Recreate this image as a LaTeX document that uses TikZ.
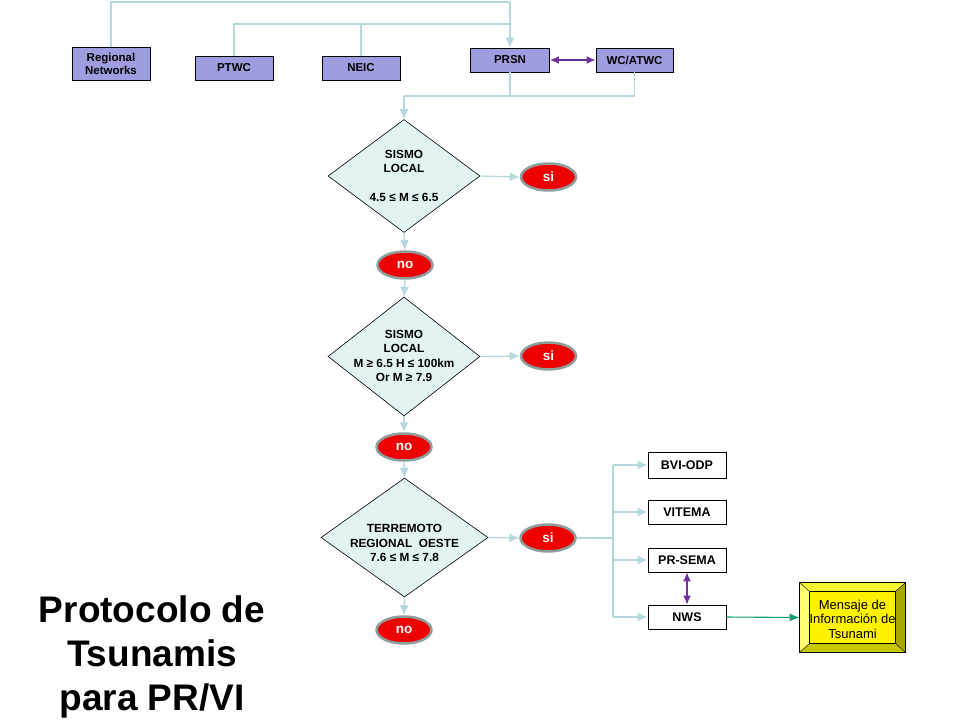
\documentclass[tikz,border=0pt]{standalone}
\usepackage{fontspec}
\setmainfont{Liberation Sans}
\usetikzlibrary{shapes.geometric,arrows.meta}
\definecolor{boxblue}{HTML}{9D9DDF}
\definecolor{diafill}{HTML}{E3F3F3}
\definecolor{conncol}{HTML}{B6D8DC}
\definecolor{ringgray}{HTML}{8E9E9E}
\definecolor{alertred}{HTML}{EE0000}
\definecolor{purp}{HTML}{7030A0}
\definecolor{arrgreen}{HTML}{10A070}
\definecolor{bevlight}{HTML}{FFFF70}
\definecolor{bevtop}{HTML}{F4F430}
\definecolor{bevdark}{HTML}{A8A800}
\definecolor{bevbot}{HTML}{C8C800}
\begin{document}
\begin{tikzpicture}[x=1pt,y=-1pt,
  bluebox/.style={draw=black,fill=boxblue,line width=0.8pt,minimum width=78pt,minimum height=24pt,inner sep=0pt,align=center,font=\bfseries\fontsize{11.5}{13}\selectfont},
  whitebox/.style={draw=black,fill=white,line width=0.8pt,minimum width=78pt,minimum height=24pt,inner sep=0pt,font=\bfseries\fontsize{12.5}{14}\selectfont},
  decision/.style={diamond,draw=black,fill=diafill,line width=0.6pt,inner sep=0pt},
  dtext/.style={align=center,font=\bfseries\fontsize{11.8}{14.2}\selectfont,inner sep=0pt},
  answer/.style={ellipse,draw=ringgray,line width=2.5pt,fill=alertred,text=white,minimum width=55pt,minimum height=27pt,inner sep=0pt,font=\bfseries\fontsize{13.5}{15}\selectfont},
  conn/.style={draw=conncol,line width=1.3pt},
  carrow/.style={conn,-{Latex[length=10pt,width=9pt]}},
  parrow/.style={draw=purp,line width=1.3pt,{Latex[length=9pt,width=8pt]}-{Latex[length=9pt,width=8pt]}},
]
\useasboundingbox (0,0) rectangle (960,720);
\fill[white] (0,0) rectangle (960,720);

% top boxes
\node[bluebox,minimum height=33pt] (rn) at (111,64) {Regional\\Networks};
\node[bluebox] (ptwc) at (234,68) {PTWC};
\node[bluebox] (neic) at (361,68) {NEIC};
\node[bluebox,minimum width=79pt] (prsn) at (510,60) {PRSN};
\node[bluebox,minimum width=77pt] (wcatwc) at (634.5,60) {WC/ATWC};

\coordinate (jtop) at (510,2);
\coordinate (jmid) at (510,24);
\coordinate (jlow) at (404,96);

\draw[conn] (rn.north) |- (jtop);
\draw[carrow] (jtop) -- (prsn.north);
\draw[conn] (ptwc.north) |- (jmid);
\draw[conn] (neic.north) -- (neic.north |- jmid);
\draw[parrow] (prsn.east) -- (wcatwc.west);
\draw[conn] (wcatwc.south) |- (jlow);
\draw[conn] (prsn.south) -- (prsn.south |- jlow);

% decisions
\node[decision,minimum width=152pt,minimum height=113pt] (d1) at (404,176) {};
\node[dtext] (t1) at (404,176) {SISMO\\LOCAL\\[14.2pt]4.5 ≤ M ≤ 6.5};
\node[answer] (si1) at (548.5,177) {si};
\node[answer] (no1) at (405,265) {no};

\node[decision,minimum width=152pt,minimum height=119pt] (d2) at (404,356.5) {};
\node[dtext] (t2) at (404,356) {SISMO\\LOCAL\\M ≥ 6.5 H ≤ 100km\\Or M ≥ 7.9};
\node[answer] (si2) at (548.5,356) {si};
\node[answer] (no2) at (404,447) {no};

\node[decision,minimum width=167pt,minimum height=119pt] (d3) at (404.5,537.5) {};
\node[dtext] (t3) at (404.5,543) {TERREMOTO\\REGIONAL\ \ OESTE\\7.6 ≤ M ≤ 7.8};
\node[answer] (si3) at (548,538) {si};
\node[answer] (no3) at (404,630) {no};

\draw[carrow] (jlow) -- (d1.north);
\draw[carrow] (d1.east) -- (si1.west);
\draw[carrow] (d1.south) -- (no1.north);
\draw[carrow] (no1.south) -- (d2.north);
\draw[carrow] (d2.east) -- (si2.west);
\draw[carrow] (d2.south) -- (no2.north);
\draw[carrow] (no2.south) -- (d3.north);
\draw[carrow] (d3.east) -- (si3.west);
\draw[carrow] (d3.south) -- (no3.north);

% agencies
\node[whitebox,minimum height=26pt] (bvi) at (687,465) {BVI-ODP};
\node[whitebox] (vitema) at (687,512) {VITEMA};
\node[whitebox] (prsema) at (687,560) {PR-SEMA};
\node[whitebox] (nws) at (687,617) {NWS};

\coordinate (bus) at (613,538);
\draw[conn,line width=1.8pt] (si3.east) -- (bus);
\draw[conn] (bus |- bvi) -- (bus |- nws);
\draw[carrow] (bus |- bvi) -- (bvi.west);
\draw[carrow] (bus |- vitema) -- (vitema.west);
\draw[carrow] (bus |- prsema) -- (prsema.west);
\draw[carrow] (bus |- nws) -- (nws.west);
\draw[parrow] (prsema.south) -- (nws.north);

% message box
\node[draw=black,fill=yellow,line width=0.8pt,minimum width=105pt,minimum height=69pt,inner sep=0pt] (msg) at (852.5,617.5) {};
\coordinate (ia) at ([xshift=10pt,yshift=-9pt]msg.north west);
\coordinate (ib) at ([xshift=-10pt,yshift=-9pt]msg.north east);
\coordinate (ic) at ([xshift=-10pt,yshift=9pt]msg.south east);
\coordinate (id) at ([xshift=10pt,yshift=9pt]msg.south west);
\fill[bevtop] (msg.north west) -- (msg.north east) -- (ib) -- (ia) -- cycle;
\fill[bevlight] (msg.north west) -- (ia) -- (id) -- (msg.south west) -- cycle;
\fill[bevdark] (msg.north east) -- (msg.south east) -- (ic) -- (ib) -- cycle;
\fill[bevbot] (msg.south west) -- (id) -- (ic) -- (msg.south east) -- cycle;
\draw[black,line width=0.5pt] (ia) rectangle (ic);
\draw[black,line width=0.4pt] (msg.north west) -- (ia) (msg.north east) -- (ib) (msg.south east) -- (ic) (msg.south west) -- (id);
\draw[black,line width=0.8pt] (msg.north west) rectangle (msg.south east);
\node[align=center,inner sep=0pt,font=\fontsize{13}{14.5}\selectfont] (msgtext) at (852.5,619) {Mensaje de\\Información de\\Tsunami};
\draw[draw=arrgreen,line width=1.1pt,-{Latex[length=10pt,width=8pt]}] (nws.east) -- (msg.west);

% title
\node[align=center,inner sep=0pt,font=\bfseries\fontsize{37}{44}\selectfont] (title) at (152,657) {Protocolo de\\Tsunamis\\para PR/VI};
\end{tikzpicture}
\end{document}
